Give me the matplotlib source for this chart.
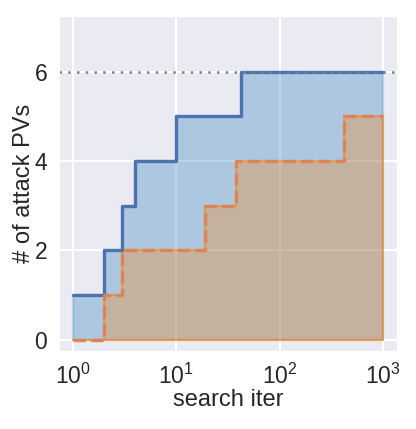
import numpy as np
import matplotlib
matplotlib.use("Agg")
import matplotlib.pyplot as plt
import seaborn as sns

sns.set_style("darkgrid")
plt.rcParams['font.family'] = ['Liberation Sans', 'DejaVu Sans']
plt.rcParams['mathtext.default'] = 'regular'
plt.rcParams['grid.linewidth'] = 1.5

# step data
blue_iter = [1, 2, 3, 4, 10, 42, 1000]
blue_pvs = [1, 2, 3, 4, 5, 6, 6]
orange_iter = [1, 2, 3, 19, 38, 420, 1000]
orange_pvs = [0, 1, 2, 3, 4, 5, 5]
total_pvs = 6

deep = sns.color_palette("deep")

fig = plt.figure(figsize=(4.16, 4.29), dpi=100)
ax = fig.add_axes([0.142, 0.182, 0.812, 0.781])

ax.fill_between(blue_iter, blue_pvs, step='post', facecolor=(0.12, 0.47, 0.71, 0.3),
                edgecolor=(0.12, 0.47, 0.71, 0.3), lw=1.5)
ax.fill_between(orange_iter, orange_pvs, step='post', facecolor=(1.0, 0.5, 0.05, 0.3),
                edgecolor=(1.0, 0.5, 0.05, 0.6), lw=1.5)
ax.step(blue_iter, blue_pvs, where='post', color=deep[0], lw=2.4)
ax.step(orange_iter, orange_pvs, where='post', color=deep[1], lw=2.4, ls='--')
ax.axhline(total_pvs, color='gray', ls=(0, (1, 2.5)), lw=1.8)

ax.set_xscale('log')
ax.set_xlim(0.73, 1370)
ax.set_ylim(-0.25, 7.25)
ax.set_yticks([0, 2, 4, 6])
ax.minorticks_off()
ax.tick_params(labelsize=16.5)
ax.tick_params(axis='x', pad=6)
ax.tick_params(axis='y', pad=5)
ax.set_xlabel('search iter', fontsize=17, labelpad=0)
ax.set_ylabel('# of attack PVs', fontsize=17, labelpad=0)

fig.savefig('out.png', dpi=100)
